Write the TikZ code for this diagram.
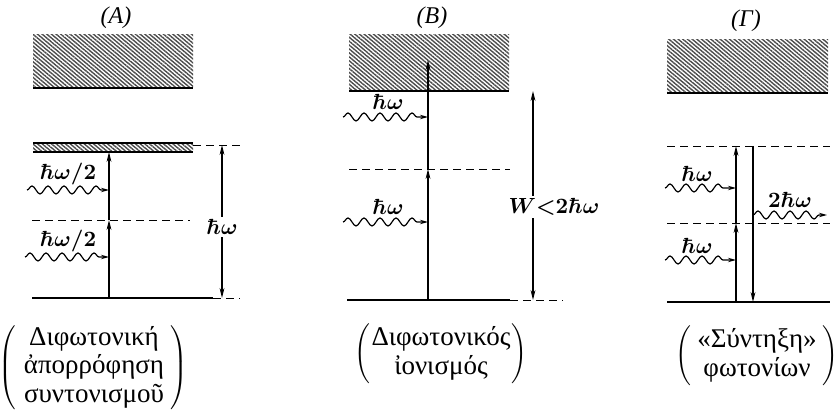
\documentclass[tikz,border=0pt]{standalone}
\usepackage[no-math]{fontspec}
\setmainfont{Liberation Serif}
\usepackage{tikz}
\usetikzlibrary{arrows.meta,decorations.pathmorphing,patterns.meta}
\tikzstyle{arrow} = [semithick,->,>={Stealth[length=5pt,width=2.4pt]}]
\tikzstyle{photon} = [semithick,->,>={Stealth[length=4pt,width=2.2pt]},decorate,decoration={snake,amplitude=2pt,segment length=8pt,post length=3pt}]
\tikzstyle{level} = [thick]
\tikzstyle{virtual} = [thin,dash pattern=on 4pt off 2.5pt]
\tikzstyle{band} = [pattern={Lines[angle=-40,distance=1.5pt,line width=0.7pt]},pattern color=black!70]
\tikzstyle{title} = [font=\itshape\fontsize{12}{14}\selectfont]
\tikzstyle{lbl} = [font=\boldmath\fontsize{10.5}{12}\selectfont]
\tikzstyle{caption} = [align=center,font=\fontsize{13.5}{14.3}\selectfont]

\begin{document}
\begin{tikzpicture}[x=0.5pt, y=-0.5pt]
  \useasboundingbox (0,0) rectangle (835,410);

  % (A) two-photon resonant absorption
  \node[title] (tA) at (116,18) {(A)};
  \fill[band] (33,35) rectangle (193,88);
  \draw[level] (33,88) -- (193,88);
  \fill[band] (33,143) rectangle (193,152);
  \draw[level] (33,143) -- (193,143) (33,152) -- (193,152);
  \draw[virtual] (193,145) -- (240,145);
  \draw[virtual] (32,220) -- (190,220);
  \draw[level] (32,298) -- (213,298);
  \draw[virtual] (213,298) -- (240,298);
  \coordinate (a0) at (109,298);
  \coordinate (a1) at (109,220);
  \coordinate (a2) at (109,152);
  \draw[arrow] (a0) -- (a1);
  \draw[arrow] (a1) -- (a2);
  \coordinate (ea) at (222,145);
  \coordinate (eb) at (222,298);
  \draw[arrow,<->] (eb) -- (ea);
  \node[lbl, fill=white, inner sep=1pt] (lA) at (222,227) {$\hbar\omega$};
  \coordinate (pa1) at (27,190);
  \coordinate (pa2) at (25,257);
  \draw[photon] (pa1) -- (a1 |- pa1);
  \draw[photon] (pa2) -- (a0 |- pa2);
  \node[lbl] (la1) at (68,174) {$\hbar\omega/2$};
  \node[lbl] (la2) at (68,241) {$\hbar\omega/2$};

  % (B) two-photon ionisation
  \node[title] (tB) at (432,18) {(B)};
  \fill[band] (349,35) rectangle (509,91);
  \draw[level] (349,91) -- (509,91);
  \draw[virtual] (349,169) -- (510,169);
  \draw[level] (347,300) -- (510,300);
  \draw[virtual] (510,300) -- (563,300);
  \coordinate (b0) at (428,300);
  \coordinate (b1) at (428,169);
  \coordinate (b2) at (428,60);
  \draw[arrow] (b0) -- (b1);
  \draw[arrow] (b1) -- (b2);
  \coordinate (wa) at (533,91);
  \coordinate (wb) at (533,300);
  \draw[arrow,<->] (wb) -- (wa);
  \node[lbl, fill=white, inner sep=1pt] (lW) at (554,207) {$W{<}2\hbar\omega$};
  \coordinate (pb1) at (343,117);
  \coordinate (pb2) at (343,222);
  \draw[photon] (pb1) -- (b0 |- pb1);
  \draw[photon] (pb2) -- (b0 |- pb2);
  \node[lbl] (lb1) at (388,102) {$\hbar\omega$};
  \node[lbl] (lb2) at (388,207) {$\hbar\omega$};

  % (Γ) photon "fusion"
  \node[title] (tG) at (746,21) {(Γ)};
  \fill[band] (667,40) rectangle (828,93);
  \draw[level] (667,93) -- (828,93);
  \draw[virtual] (667,146) -- (830,146);
  \draw[virtual] (667,223) -- (830,223);
  \draw[level] (667,302) -- (830,302);
  \coordinate (g0) at (736,302);
  \coordinate (g1) at (736,223);
  \coordinate (g2) at (736,146);
  \coordinate (d0) at (753,146);
  \coordinate (d1) at (753,302);
  \draw[arrow] (g0) -- (g1);
  \draw[arrow] (g1) -- (g2);
  \draw[arrow] (d0) -- (d1);
  \coordinate (pg1) at (665,188);
  \coordinate (pg2) at (665,260);
  \coordinate (pg3) at (827,215);
  \draw[photon] (pg1) -- (g0 |- pg1);
  \draw[photon] (pg2) -- (g0 |- pg2);
  \draw[photon] (d0 |- pg3) -- (pg3);
  \node[lbl] (lg1) at (697,174) {$\hbar\omega$};
  \node[lbl] (lg2) at (697,246) {$\hbar\omega$};
  \node[lbl] (lg3) at (790,200) {$2\hbar\omega$};

  % captions
  \node[caption, inner sep=0pt] (cA) at (93,368) {$\left(\begin{tabular}{@{\hspace{4pt}}c@{\hspace{3pt}}}Διφωτονική\\ἀπορρόφηση\\συντονισμοῦ\end{tabular}\right)$};
  \node[caption, inner sep=0pt] (cB) at (441,354) {$\left(\begin{tabular}{@{\hspace{0.5pt}}c@{\hspace{0.5pt}}}Διφωτονικός\\ἰονισμός\end{tabular}\right)$};
  \node[caption, inner sep=0pt] (cG) at (757,356) {$\left(\begin{tabular}{@{\hspace{3pt}}c@{\hspace{3pt}}}«Σύντηξη»\\φωτονίων\end{tabular}\right)$};
\end{tikzpicture}
\end{document}
